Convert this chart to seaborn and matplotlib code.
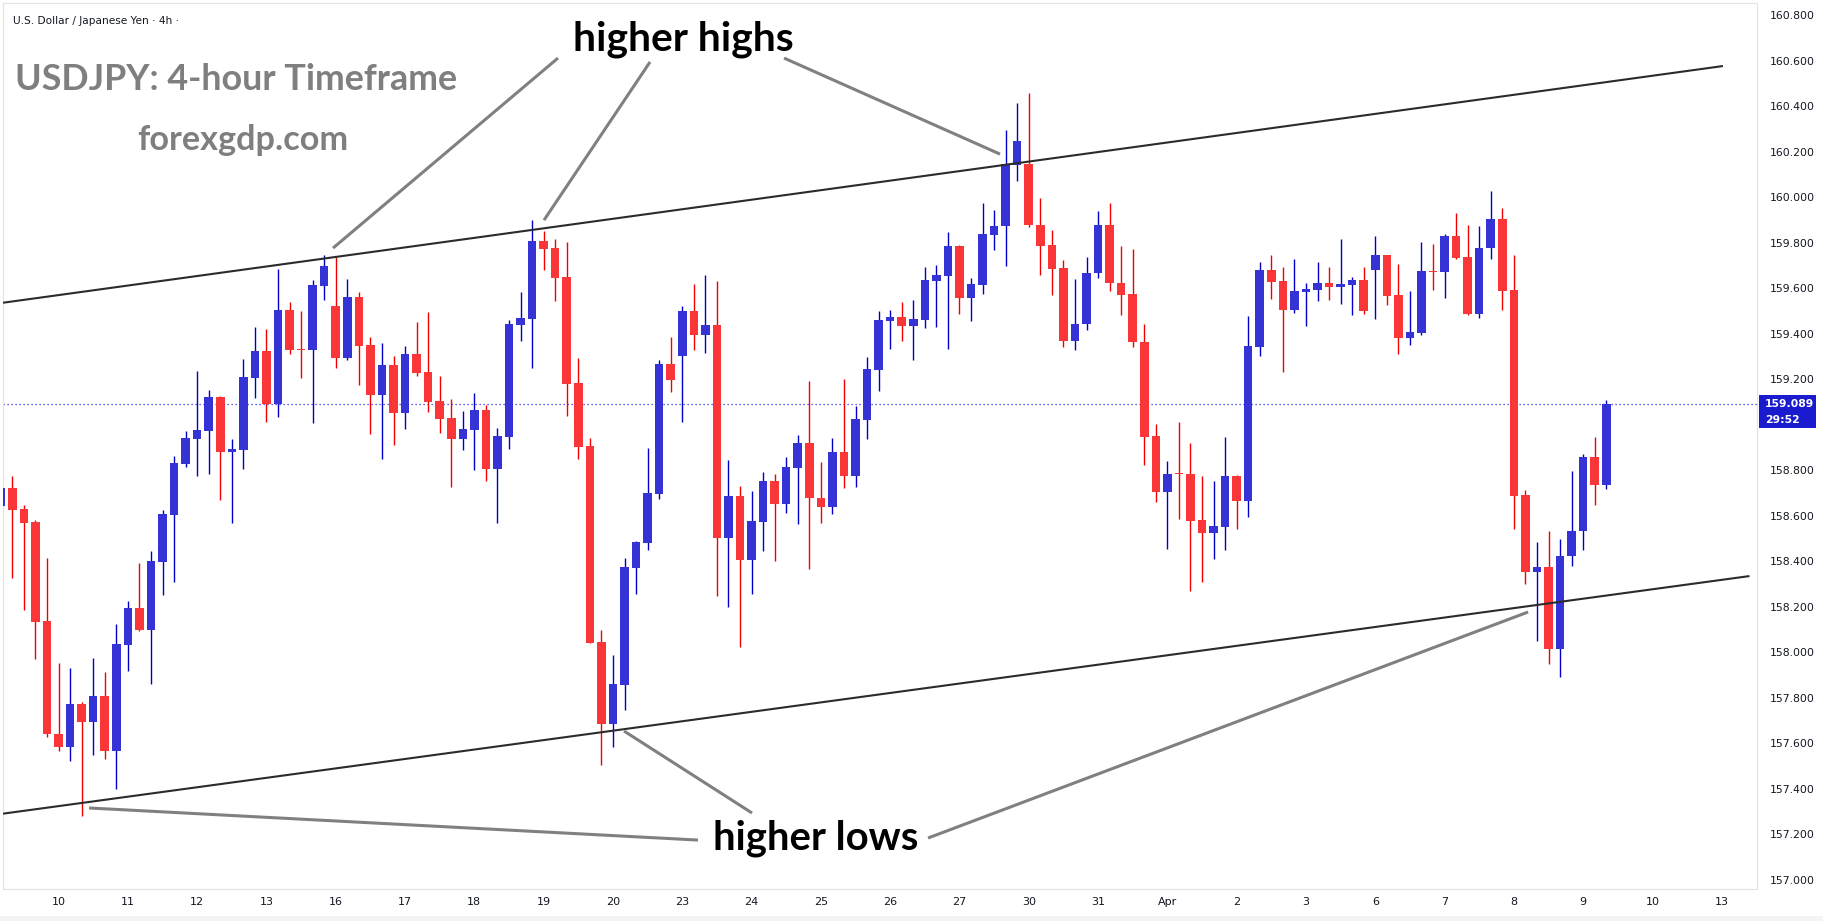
import matplotlib
matplotlib.use("Agg")
import matplotlib.pyplot as plt
import matplotlib.transforms as mtransforms
from matplotlib.patches import Rectangle
import numpy as np
import pandas as pd
import seaborn as sns

# ---------------- data (USDJPY 4h candles) ----------------
opens = [158.644, 158.720, 158.629, 158.572, 158.136, 157.642, 157.585, 157.772, 157.694, 157.807,
         157.567, 158.032, 158.194, 158.100, 158.397, 158.604, 158.828, 158.939, 158.974, 159.122,
         158.881, 158.890, 159.206, 159.324, 159.092, 159.504, 159.332, 159.329, 159.611, 159.521,
         159.294, 159.561, 159.350, 159.132, 159.262, 159.053, 159.310, 159.231, 159.104, 159.029,
         158.938, 158.978, 159.064, 158.807, 158.945, 159.438, 159.464, 159.808, 159.776, 159.651,
         159.183, 158.908, 158.045, 157.684, 157.858, 158.372, 158.480, 158.697, 159.267, 159.303,
         159.499, 159.395, 159.438, 158.503, 158.685, 158.407, 158.571, 158.753, 158.650, 158.811,
         158.919, 158.679, 158.638, 158.880, 158.773, 159.019, 159.239, 159.454, 159.472, 159.432,
         159.459, 159.632, 159.654, 159.784, 159.555, 159.616, 159.835, 159.871, 160.142, 160.145,
         159.878, 159.788, 159.687, 159.369, 159.441, 159.665, 159.878, 159.622, 159.573, 159.362,
         158.950, 158.706, 158.786, 158.784, 158.580, 158.524, 158.551, 158.775, 158.663, 159.340,
         159.678, 159.631, 159.506, 159.584, 159.593, 159.622, 159.607, 159.616, 159.636, 159.681,
         159.746, 159.568, 159.383, 159.403, 159.674, 159.672, 159.829, 159.737, 159.488, 159.775,
         159.903, 159.591, 158.690, 158.352, 158.374, 158.013, 158.423, 158.531, 158.858, 158.733]
highs = [158.740, 158.774, 158.646, 158.580, 158.414, 157.952, 157.930, 157.782, 157.973, 157.913,
         158.123, 158.224, 158.392, 158.444, 158.624, 158.861, 158.972, 159.236, 159.152, 159.125,
         158.937, 159.288, 159.430, 159.420, 159.684, 159.539, 159.499, 159.636, 159.745, 159.735,
         159.640, 159.581, 159.385, 159.359, 159.302, 159.345, 159.451, 159.495, 159.214, 159.113,
         159.060, 159.139, 159.085, 158.985, 159.462, 159.582, 159.899, 159.852, 159.818, 159.802,
         159.293, 158.942, 158.098, 157.988, 158.414, 158.489, 158.898, 159.283, 159.386, 159.521,
         159.618, 159.657, 159.631, 158.844, 158.730, 158.708, 158.791, 158.784, 158.858, 158.954,
         159.192, 158.836, 158.941, 159.201, 159.084, 159.297, 159.499, 159.504, 159.539, 159.546,
         159.692, 159.701, 159.847, 159.790, 159.645, 159.974, 159.943, 160.295, 160.414, 160.456,
         159.997, 159.855, 159.723, 159.640, 159.737, 159.938, 159.974, 159.784, 159.773, 159.443,
         159.004, 158.840, 159.010, 158.918, 158.775, 158.753, 158.945, 158.780, 159.477, 159.714,
         159.746, 159.692, 159.728, 159.622, 159.714, 159.692, 159.815, 159.649, 159.692, 159.829,
         159.746, 159.705, 159.587, 159.802, 159.793, 159.838, 159.930, 159.878, 159.873, 160.026,
         159.952, 159.746, 158.712, 158.484, 158.533, 158.497, 158.795, 158.871, 158.948, 159.109]
lows = [158.620, 158.328, 158.187, 157.972, 157.627, 157.565, 157.523, 157.279, 157.550, 157.533,
        157.400, 157.920, 158.095, 157.862, 158.253, 158.310, 158.814, 158.775, 158.784, 158.670,
        158.569, 158.804, 159.118, 159.013, 159.035, 159.312, 159.206, 159.009, 159.549, 159.250,
        159.285, 159.176, 158.960, 158.851, 158.911, 158.982, 159.215, 159.057, 158.965, 158.725,
        158.890, 158.802, 158.754, 158.569, 158.893, 159.368, 159.249, 159.680, 159.545, 159.038,
        158.849, 158.040, 157.505, 157.583, 157.747, 158.258, 158.451, 158.674, 159.145, 159.013,
        159.329, 159.313, 158.248, 158.201, 158.022, 158.257, 158.446, 158.401, 158.614, 158.562,
        158.367, 158.567, 158.609, 158.724, 158.728, 158.939, 159.147, 159.333, 159.367, 159.284,
        159.425, 159.430, 159.333, 159.488, 159.457, 159.575, 159.766, 159.699, 160.073, 159.870,
        159.656, 159.571, 159.340, 159.327, 159.414, 159.643, 159.589, 159.483, 159.342, 158.824,
        158.659, 158.455, 158.587, 158.271, 158.311, 158.412, 158.448, 158.544, 158.596, 159.304,
        159.551, 159.230, 159.493, 159.432, 159.542, 159.546, 159.531, 159.483, 159.488, 159.466,
        159.528, 159.309, 159.351, 159.394, 159.593, 159.557, 159.728, 159.483, 159.468, 159.726,
        159.504, 158.544, 158.298, 158.051, 157.950, 157.890, 158.381, 158.448, 158.647, 158.719]
closes = [158.720, 158.626, 158.569, 158.135, 157.642, 157.585, 157.772, 157.694, 157.807, 157.567,
          158.036, 158.194, 158.100, 158.400, 158.607, 158.831, 158.940, 158.976, 159.122, 158.881,
          158.893, 159.209, 159.324, 159.092, 159.504, 159.329, 159.329, 159.614, 159.697, 159.294,
          159.561, 159.347, 159.132, 159.262, 159.053, 159.310, 159.228, 159.101, 159.026, 158.938,
          158.981, 159.064, 158.807, 158.950, 159.443, 159.469, 159.808, 159.774, 159.644, 159.181,
          158.901, 158.042, 157.684, 157.861, 158.375, 158.484, 158.700, 159.267, 159.196, 159.499,
          159.395, 159.438, 158.503, 158.687, 158.407, 158.576, 158.753, 158.650, 158.813, 158.919,
          158.676, 158.638, 158.880, 158.773, 159.024, 159.244, 159.459, 159.472, 159.432, 159.463,
          159.636, 159.658, 159.784, 159.555, 159.618, 159.838, 159.873, 160.145, 160.246, 159.876,
          159.786, 159.685, 159.369, 159.443, 159.667, 159.878, 159.622, 159.571, 159.362, 158.948,
          158.706, 158.784, 158.782, 158.578, 158.524, 158.555, 158.775, 158.663, 159.344, 159.678,
          159.629, 159.506, 159.587, 159.595, 159.622, 159.607, 159.618, 159.636, 159.501, 159.746,
          159.566, 159.383, 159.407, 159.674, 159.672, 159.829, 159.732, 159.488, 159.777, 159.903,
          159.589, 158.688, 158.352, 158.376, 158.013, 158.423, 158.533, 158.858, 158.733, 159.089]

day_labels = ["10", "11", "12", "13", "16", "17", "18", "19", "20", "23", "24", "25", "26",
              "27", "30", "31", "Apr", "2", "3", "6", "7", "8", "9", "10", "13"]
bars_per_day = 6
first_day_bar = 5

price_ticks = [157.0, 157.2, 157.4, 157.6, 157.8, 158.0, 158.2, 158.4, 158.6, 158.8,
               159.2, 159.4, 159.6, 159.8, 160.0, 160.2, 160.4, 160.6, 160.8]

# channel lines (bar index, price)
upper_x, upper_y = [0.19, 149.1], [159.536, 160.576]
lower_x, lower_y = [0.19, 151.4], [157.291, 158.335]

# annotation pointers: (bar index, price) pairs
highs_pointers = [((48.24, 160.611), (28.76, 159.776)),
                  ((56.21, 160.594), (47.03, 159.899)),
                  ((67.81, 160.611), (86.51, 160.189))]
lows_pointers = [((60.36, 157.175), (7.64, 157.316)),
                 ((65.04, 157.294), (53.96, 157.654)),
                 ((80.28, 157.184), (132.23, 158.177))]

title_small = "U.S. Dollar / Japanese Yen \u00b7 4h \u00b7"
title_big = "USDJPY: 4-hour Timeframe"
site = "forexgdp.com"
countdown = "29:52"

# ---------------- figure ----------------
sns.set_theme(style="white")
plt.rcParams["font.family"] = ["DejaVu Sans"]

W, H = 1823, 921
fig = plt.figure(figsize=(W / 100, H / 100), dpi=100)
fig.patch.set_facecolor("white")
ax = fig.add_axes([3 / W, (H - 889) / H, 1754 / W, 886 / H])
ax.set_facecolor("white")

# faint outer band/border like the screenshot frame
fig.patches.append(Rectangle((0, 0), 1, 5 / H, transform=fig.transFigure,
                             facecolor="#f4f4f6", edgecolor="none", zorder=-1))

df = pd.DataFrame({"o": opens, "h": highs, "l": lows, "c": closes})
df["i"] = np.arange(len(df))
df["up"] = df["c"] >= df["o"]

body_up, body_dn = "#3633d6", "#fb3639"
wick_up, wick_dn = "#0000c8", "#f00000"

wick_cols = np.where(df["up"], wick_up, wick_dn)
body_cols = np.where(df["up"], body_up, body_dn)
ax.vlines(df["i"], df["l"], df["h"], colors=wick_cols, lw=1.0, zorder=2)
bottoms = np.minimum(df["o"], df["c"])
heights = np.maximum((df["c"] - df["o"]).abs(), 0.0045)
ax.bar(df["i"], heights, bottom=bottoms, width=0.74, color=body_cols, linewidth=0, zorder=3)

# last price line
last = closes[-1]
ax.axhline(last, color="#2a2ae0", ls=(0, (1, 2.2)), lw=0.9, zorder=1)

# channel lines
ax.plot(upper_x, upper_y, color="#2b2b2b", lw=1.5, zorder=4, solid_capstyle="butt")
ax.plot(lower_x, lower_y, color="#2b2b2b", lw=1.5, zorder=4, solid_capstyle="butt")

for (a, b) in highs_pointers + lows_pointers:
    ax.plot([a[0], b[0]], [a[1], b[1]], color="#808080", lw=2.2, zorder=5,
            solid_capstyle="butt")

ax.set_xlim(0.19, 152.05)
ax.set_ylim(156.960, 160.853)

# axes
ax.yaxis.tick_right()
ax.set_yticks(price_ticks)
ax.set_yticklabels([f"{v:.3f}" for v in price_ticks])
ax.tick_params(axis="y", length=0, pad=9, labelsize=7.8, labelcolor="#131722")
xt = [first_day_bar + bars_per_day * k for k in range(len(day_labels))]
ax.set_xticks(xt)
ax.set_xticklabels(day_labels)
ax.tick_params(axis="x", length=0, pad=6, labelsize=8, labelcolor="#131722")
for s in ax.spines.values():
    s.set_color("#e0e3eb")
    s.set_linewidth(0.8)
ax.grid(False)

# last price label box
trans = mtransforms.blended_transform_factory(ax.transAxes, ax.transData)
ax.add_patch(Rectangle((1.0011, last - 0.104), 0.0325, 0.145, transform=trans,
                       facecolor="#1a1acf", edgecolor="none", clip_on=False, zorder=10))
ax.text(1.0046, last, f"{last:.3f}", transform=trans, ha="left", va="center",
        color="white", fontsize=7.8, fontweight="bold", zorder=11, clip_on=False)
ax.text(1.0046, last - 0.069, countdown, transform=trans, ha="left", va="center",
        color="white", fontsize=7.8, fontweight="bold", zorder=11, clip_on=False)

# texts
def px(x, y):
    return x / W, 1 - y / H

fig.text(*px(13, 24), title_small, fontsize=7.6, color="#131722", va="baseline", ha="left")

big_texts = []
for s, x, y, wtarget, col in [(title_big, 15, 90, 443, "#7f7f7f"),
                              (site, 137, 150, 211, "#7f7f7f"),
                              ("higher highs", 573, 50, 221, "black"),
                              ("higher lows", 713, 849, 205, "black")]:
    t = fig.text(*px(x, y), s, fontsize=24, fontweight="bold", family=["Lato", "DejaVu Sans"],
                 color=col, va="baseline", ha="left", zorder=20)
    big_texts.append((t, wtarget))

fig.canvas.draw()
r = fig.canvas.get_renderer()
for t, wt in big_texts:
    bb = t.get_window_extent(r)
    t.set_fontsize(t.get_fontsize() * wt / bb.width)

fig.savefig("out.png", dpi=100, facecolor="white")
